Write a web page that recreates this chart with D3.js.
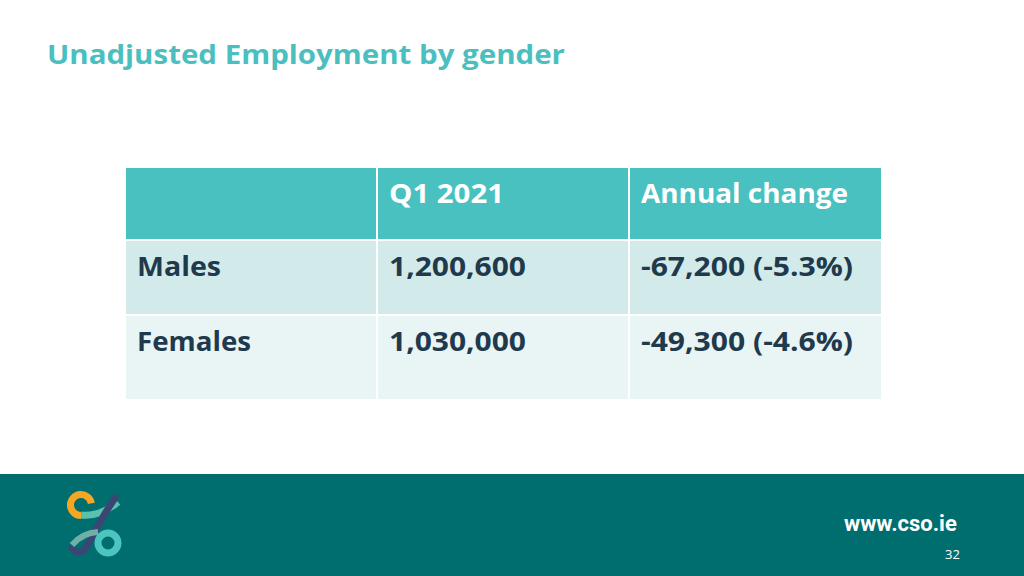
<!DOCTYPE html>
<html><head><meta charset="utf-8">
<script src="https://cdn.jsdelivr.net/npm/d3@7"></script>
<style>body{margin:0;background:#fff}svg{display:block}</style>
</head><body>
<svg id="c" width="1024" height="576"></svg>
<script>
const title = "Unadjusted Employment by gender";
const headers = ["", "Q1 2021", "Annual change"];
const rowLabels = ["Males", "Females"];
const q1Values = ["1,200,600", "1,030,000"];
const annualChange = ["-67,200 (-5.3%)", "-49,300 (-4.6%)"];

const svg = d3.select("#c");
const F = "'Open Sans', sans-serif";
svg.append("text").attr("x",47).attr("y",64).attr("font-family",F).attr("font-weight","bold")
  .attr("font-size",27).attr("textLength",518).attr("lengthAdjust","spacingAndGlyphs").attr("fill","#4BBFBF").text(title);

const colEdges = [125,377,629,882];
const rowEdges = [167,240,315,400];
const rowsData = [headers, ...rowLabels.map((r,i)=>[r,q1Values[i],annualChange[i]])];
const fills = ["#48C1C0","#D3EAEA","#E9F4F4"];
const widths = [[0,115,207],[84,137,212],[114,137,212]];
rowsData.forEach((row,ri)=>{
  row.forEach((txt,ci)=>{
    const x0=colEdges[ci], x1=colEdges[ci+1], y0=rowEdges[ri], y1=rowEdges[ri+1];
    svg.append("rect").attr("x",x0+1).attr("y",y0+1).attr("width",x1-x0-2).attr("height",y1-y0-2).attr("fill",fills[ri]);
    if(!txt) return;
    svg.append("text").attr("x",x0+12).attr("y",y0+36).attr("font-family",F).attr("font-weight","bold")
      .attr("font-size",26).attr("textLength",widths[ri][ci]).attr("lengthAdjust","spacingAndGlyphs")
      .attr("fill",ri===0?"#fff":"#1f3a4d").text(txt);
  });
});

// footer
svg.append("rect").attr("x",0).attr("y",474).attr("width",1024).attr("height",102).attr("fill","#006E6E");
svg.append("path").attr("d",d3.arc()({innerRadius:7,outerRadius:14,startAngle:Math.PI*0.45,endAngle:-Math.PI*1.0}))
  .attr("transform","translate(81,505)").attr("fill","#F5A623");
svg.append("path").attr("d","M81,515 Q100,517 118,502").attr("stroke","#5CC0AE").attr("stroke-width",7).attr("fill","none");
svg.append("path").attr("d","M115,498 Q100,520 87,546 Q80,558 72,548").attr("stroke","#3A4775").attr("stroke-width",7).attr("fill","none").attr("stroke-linecap","round");
svg.append("path").attr("d","M72,545 Q82,533 98,532").attr("stroke","#6FAFA6").attr("stroke-width",6).attr("fill","none");
svg.append("circle").attr("cx",108).attr("cy",543).attr("r",10).attr("fill","none").attr("stroke","#4CC4C0").attr("stroke-width",7);

svg.append("text").attr("x",844).attr("y",531).attr("font-family","Roboto, sans-serif").attr("font-weight","bold")
  .attr("font-size",22).attr("fill","#fff").text("www.cso.ie");
svg.append("text").attr("x",945).attr("y",559).attr("font-family",F).attr("font-size",13).attr("fill","#fff").text("32");
</script></body></html>
